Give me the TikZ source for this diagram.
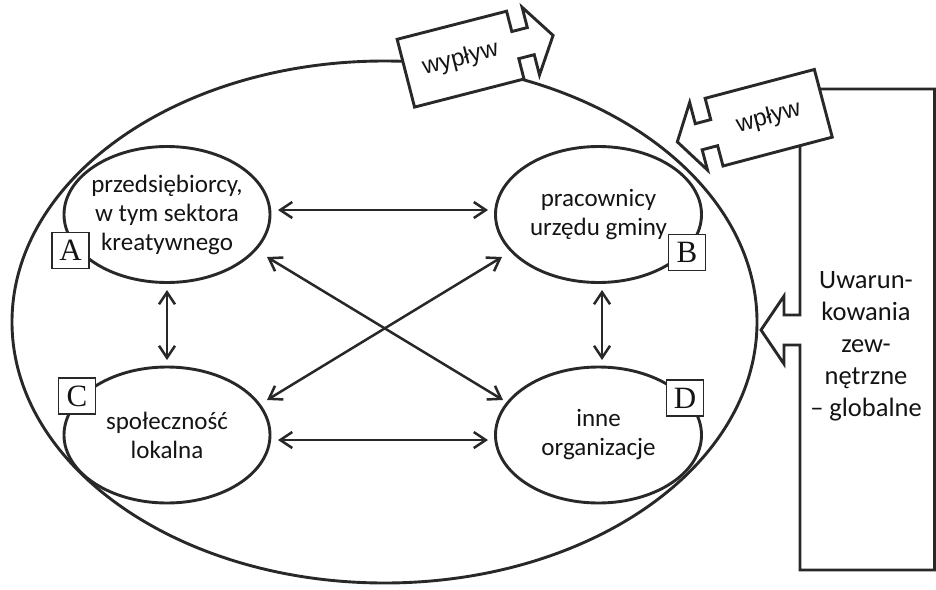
\documentclass[tikz,border=0pt]{standalone}
\usepackage{fontspec}
\setmainfont{Carlito}
\newfontfamily\arialfont{Liberation Sans}
\newfontfamily\timesfont{Liberation Serif}
\usetikzlibrary{shapes.geometric,arrows.meta}
\definecolor{ink}{RGB}{40,40,40}
\definecolor{txtc}{RGB}{20,20,20}

\begin{document}
\begin{tikzpicture}[x=1pt,y=-1pt,
  outline/.style={draw=ink, line width=2.9pt, line join=miter},
  actor/.style={outline, ellipse, minimum width=206pt, minimum height=136pt, inner sep=0pt},
  actortext/.style={align=center, text=txtc, inner sep=0pt, font=\fontsize{25}{29}\selectfont},
  boxtext/.style={align=center, text=txtc, inner sep=0pt, font=\fontsize{26.5}{32}\selectfont},
  tag/.style={draw=ink, line width=1.4pt, fill=white, minimum width=37pt, minimum height=36pt,
    inner sep=0pt, text=txtc, font=\timesfont\fontsize{31}{31}\selectfont},
  link/.style={draw=ink, line width=2.5pt,
    {Straight Barb[length=12pt,width=16pt]}-{Straight Barb[length=12pt,width=16pt]}},
  flowtext/.style={text=txtc, inner sep=0pt, font=\arialfont\fontsize{24}{24}\selectfont},
]
\useasboundingbox (0,0) rectangle (936,589);

% local system
\node[outline, ellipse, minimum width=745pt, minimum height=522pt, inner sep=0pt] (sys) at (384.5,322) {};

% actors
\node[actor] (A) at (167,214.5) {};
\node[actor] (B) at (598.5,214.5) {};
\node[actor] (C) at (167,435) {};
\node[actor] (D) at (598.5,435) {};

\node[actortext] (At) at (A) {przedsiębiorcy,\\w tym sektora\\kreatywnego};
\node[actortext] (Bt) at (B) {pracownicy\\urzędu gminy};
\node[actortext] (Ct) at (C) {społeczność\\lokalna};
\node[actortext] (Dt) at (D) {inne\\organizacje};

% letter tags
\node[tag] (tA) at (70.5,250.5) {A};
\node[tag] (tB) at (687,252.5) {B};
\node[tag] (tC) at (77,396) {C};
\node[tag] (tD) at (685,398) {D};

% mutual relations
\draw[link] ([shift={(111,-4.5)}]A.center) -- ([shift={(-110.5,-4.5)}]B.center);
\draw[link] ([shift={(111,5)}]C.center) -- ([shift={(-110.5,5)}]D.center);
\draw[link] ([shift={(0,75.5)}]A.center) -- ([shift={(0,-75)}]C.center);
\draw[link] ([shift={(3.5,75.5)}]B.center) -- ([shift={(3.5,-75)}]D.center);
\draw[link] ([shift={(100,42.5)}]A.center) -- ([shift={(-95.5,-35)}]D.center);
\draw[link] ([shift={(-96.5,42.5)}]B.center) -- ([shift={(100,-35)}]C.center);

% external conditions with arrow into the system
\draw[outline, fill=white] (800,89) -- (800,315) -- (784,315) -- (784,296) -- (761,330)
  -- (784,364) -- (784,345) -- (800,345) -- (800,570) -- (934.5,570) -- (934.5,89) -- cycle;
\node[boxtext] (ext) at (866,346) {Uwarun-\\kowania\\zew-\\nętrzne\\– globalne};

% inflow callout
\begin{scope}[shift={(723,166)}, rotate=14.8]
  \draw[outline, fill=white] (113,0) -- (0,0) -- (0,-21) -- (-16,-21) -- (-16,0) -- (-38,-35)
    -- (-16,-70) -- (-16,-48) -- (0,-48) -- (0,-70) -- (113,-70) -- cycle;
  \node[flowtext, rotate=14.8] (inflow) at (56.5,-35) {wpływ};
\end{scope}

% outflow callout
\begin{scope}[shift={(524,79)}, rotate=14.4]
  \draw[outline, fill=white] (-113,0) -- (0,0) -- (0,-21) -- (16,-21) -- (16,0) -- (39,-35)
    -- (16,-70) -- (16,-49) -- (0,-49) -- (0,-70) -- (-113,-70) -- cycle;
  \node[flowtext, rotate=14.4] (outflow) at (-56.5,-35) {wypływ};
\end{scope}
\end{tikzpicture}
\end{document}
